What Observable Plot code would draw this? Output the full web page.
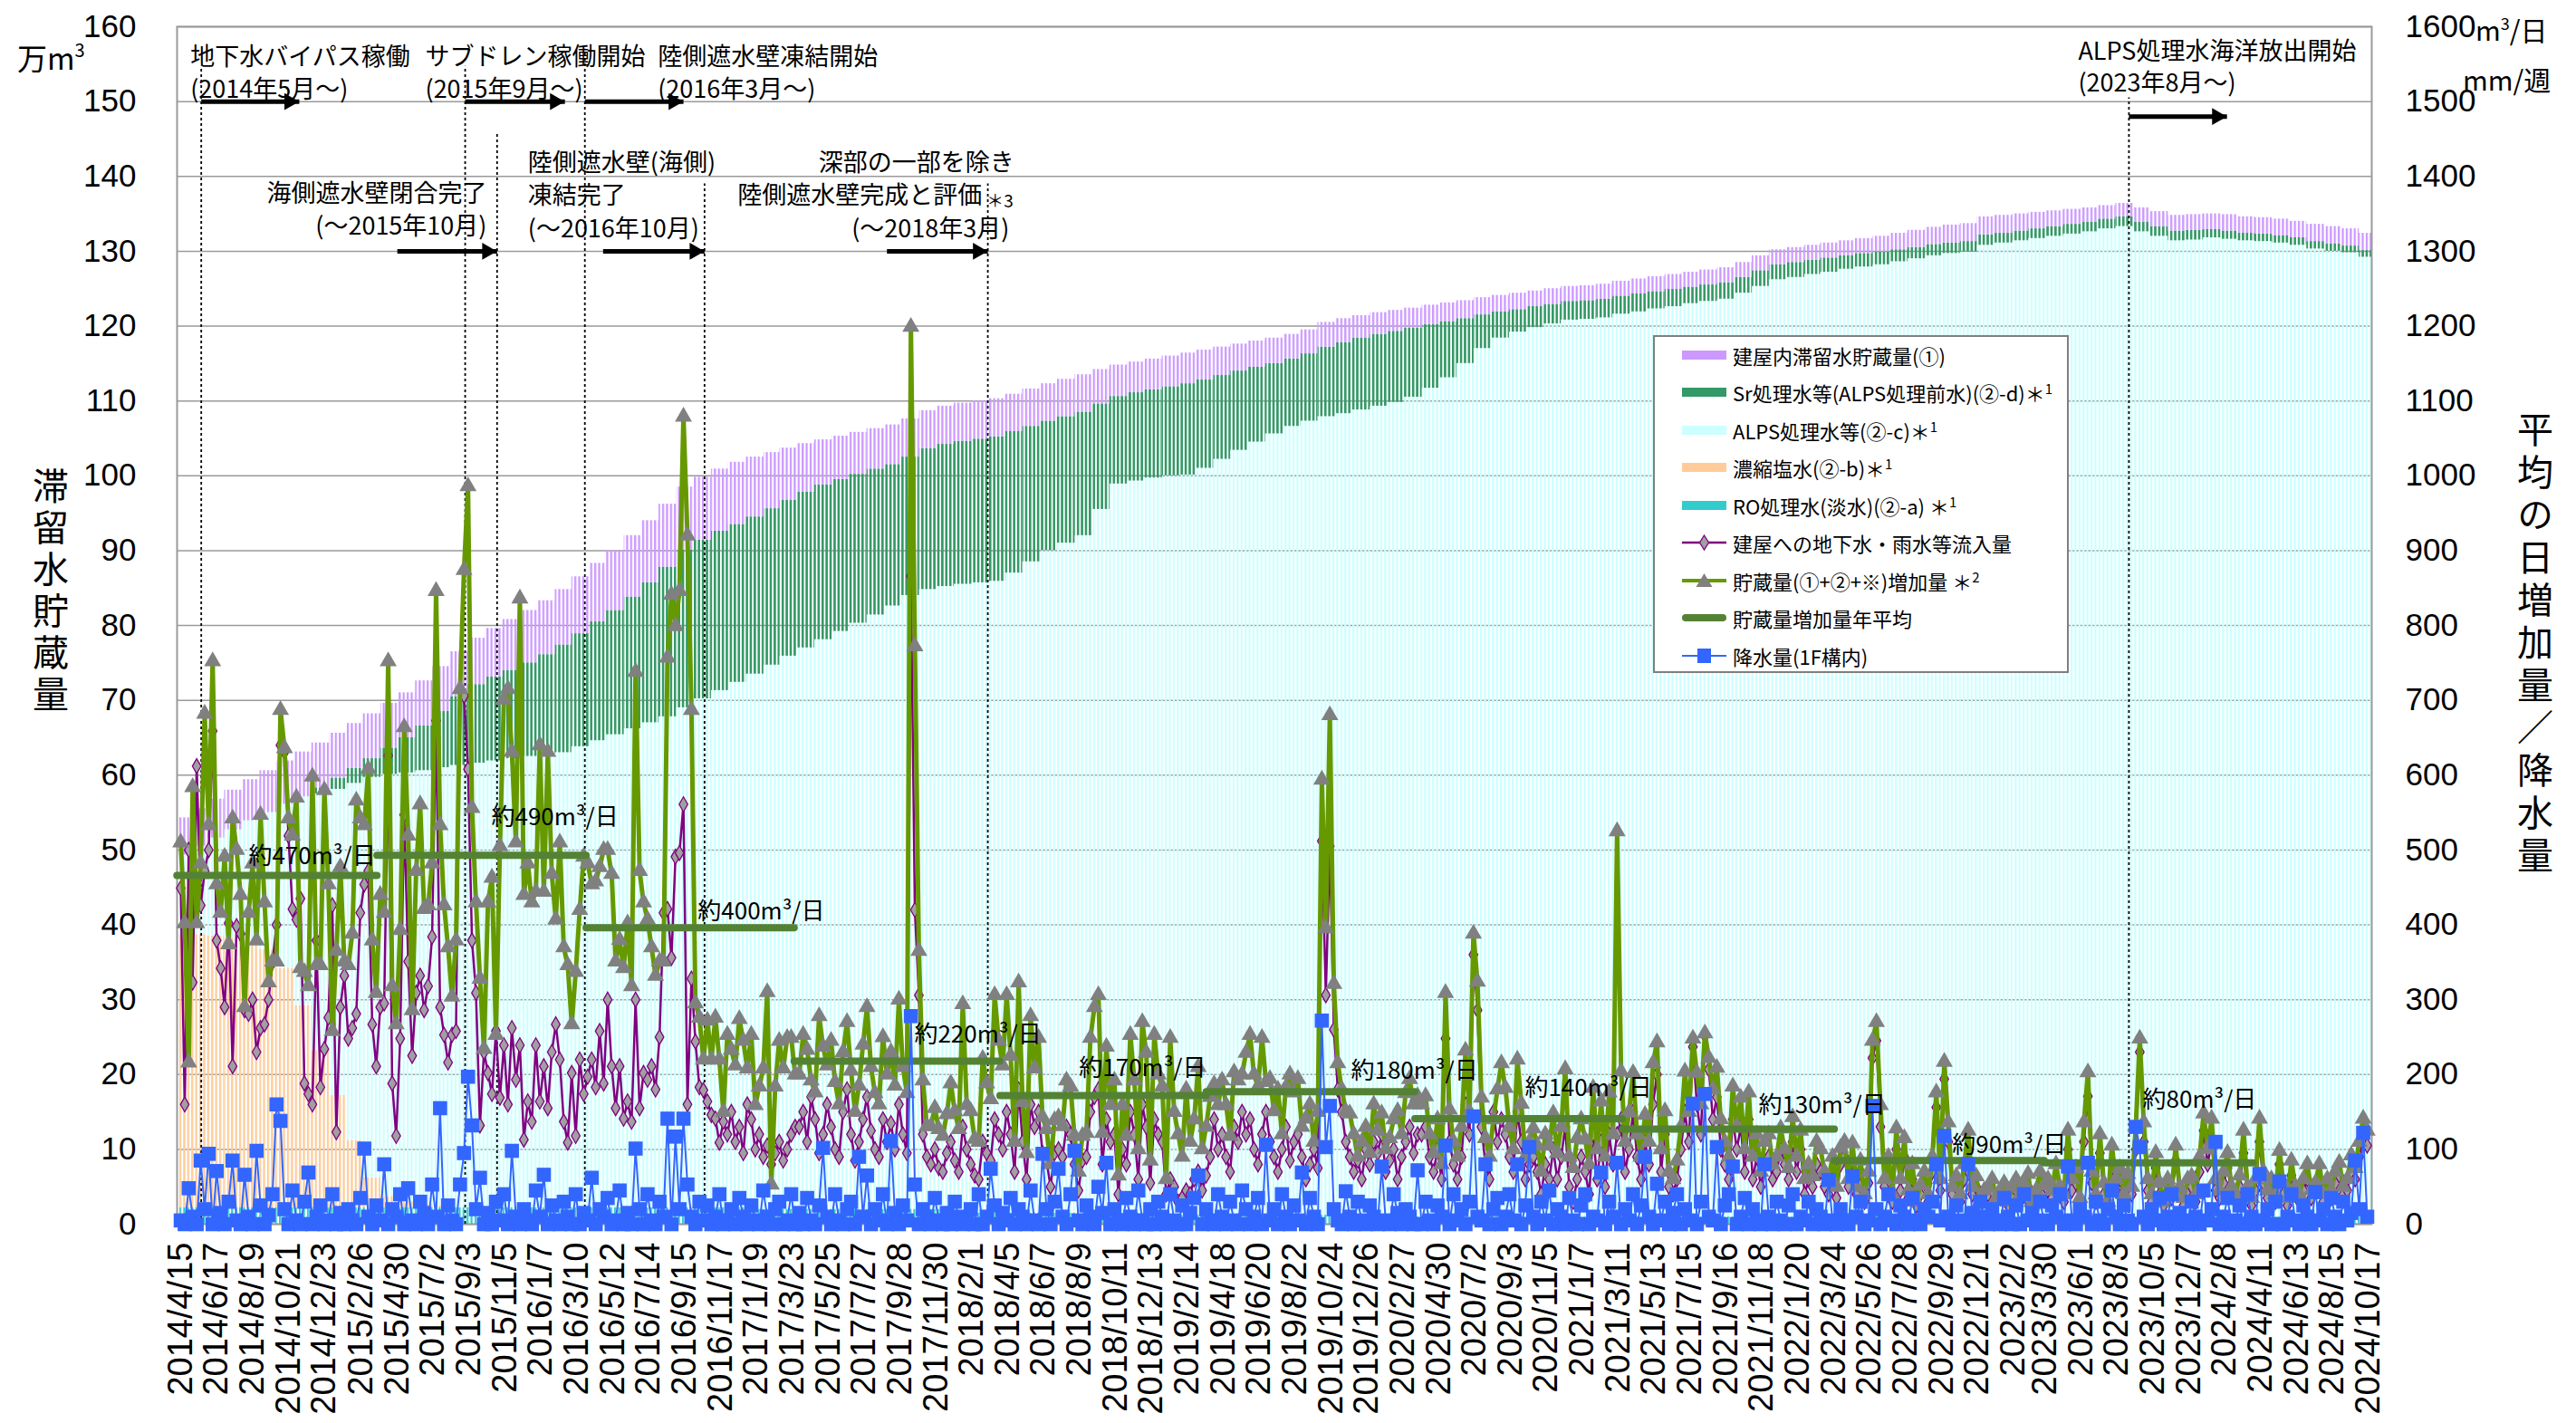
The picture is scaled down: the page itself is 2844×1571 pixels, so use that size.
<!DOCTYPE html>
<html><head><meta charset="utf-8">
<script src="https://cdn.jsdelivr.net/npm/d3@7"></script>
<script src="https://cdn.jsdelivr.net/npm/@observablehq/plot@0.6"></script>
<style>
body{margin:0;background:#fff;}
#wrap{position:relative;width:2844px;height:1571px;overflow:hidden;background:#fff;font-family:"Noto Sans CJK JP",sans-serif;color:#000;}
#wrap>svg{position:absolute;left:0;top:0;}
.ov{position:absolute;white-space:nowrap;line-height:1;}
.vt{writing-mode:vertical-rl;text-orientation:upright;font-size:40px;line-height:40px;}
#legend{position:absolute;left:1825px;top:370px;width:455px;height:369px;border:2px solid #7f7f7f;background:#fff;}
.lr{position:absolute;left:30px;height:41px;display:flex;align-items:center;font-size:22px;white-space:nowrap;}
.lr svg{margin-right:7px;flex:none;}
.lr sup{font-size:15px;}
</style></head>
<body><div id="wrap"></div>
<script>
// ---------------- x-axis tick labels (weekly categories, every 9th label) ----------------
const tickLabels = ["2014/4/15","2014/6/17","2014/8/19","2014/10/21","2014/12/23","2015/2/26","2015/4/30","2015/7/2","2015/9/3","2015/11/5","2016/1/7","2016/3/10","2016/5/12","2016/7/14","2016/9/15","2016/11/17","2017/1/19","2017/3/23","2017/5/25","2017/7/27","2017/9/28","2017/11/30","2018/2/1","2018/4/5","2018/6/7","2018/8/9","2018/10/11","2018/12/13","2019/2/14","2019/4/18","2019/6/20","2019/8/22","2019/10/24","2019/12/26","2020/2/27","2020/4/30","2020/7/2","2020/9/3","2020/11/5","2021/1/7","2021/3/11","2021/5/13","2021/7/15","2021/9/16","2021/11/18","2022/1/20","2022/3/24","2022/5/26","2022/7/28","2022/9/29","2022/12/1","2023/2/2","2023/3/30","2023/6/1","2023/8/3","2023/10/5","2023/12/7","2024/2/8","2024/4/11","2024/6/13","2024/8/15","2024/10/17"];

// ---------------- storage stacks (万m3), monthly, 2014/4 .. 2024/10: top of each layer ----------------
const roTop = [
2.2,2.2,2.2,2.2,2.2,2.2,2.2,2.2,2.2,
2.2,2.2,2.2,2.2,2.2,2.2,2.2,2.2,2.2,2.2,2.2,2.2,
2.2,2.2,2.2,2.2,2.2,2.2,2.2,2.2,2.2,2.2,2.2,2.2,
2.0,2.0,2.0,2.0,2.0,2.0,2.0,2.0,2.0,2.0,2.0,2.0,
1.5,1.5,1.5,1.5,1.5,1.5,1.5,1.5,1.5,1.5,1.5,1.5,
1.2,1.2,1.2,1.2,1.2,1.2,1.2,1.2,1.2,1.2,1.2,1.2,
1.0,1.0,1.0,1.0,1.0,1.0,1.0,1.0,1.0,1.0,1.0,1.0,
1.0,1.0,1.0,1.0,1.0,1.0,1.0,1.0,1.0,1.0,1.0,1.0,
1.0,1.0,1.0,1.0,1.0,1.0,1.0,1.0,1.0,1.0,1.0,1.0,
1.0,1.0,1.0,1.0,1.0,1.0,1.0,1.0,1.0,1.0,1.0,1.0,
1.0,1.0,1.0,1.0,1.0,1.0,1.0,1.0,1.0,1.0];
const concTop = [
38.7,38.7,38.5,38.2,37.7,36.7,34.2,29.2,23.2,
17.2,11.2,6.2,3.7,3.0,2.7,2.5,2.2,2.2,2.2,2.2,2.2,
2.2,2.2,2.2,2.2,2.2,2.2,2.2,2.2,2.2,2.2,2.2,2.2,
2.0,2.0,2.0,2.0,2.0,2.0,2.0,2.0,2.0,2.0,2.0,2.0,
1.5,1.5,1.5,1.5,1.5,1.5,1.5,1.5,1.5,1.5,1.5,1.5,
1.2,1.2,1.2,1.2,1.2,1.2,1.2,1.2,1.2,1.2,1.2,1.2,
1.0,1.0,1.0,1.0,1.0,1.0,1.0,1.0,1.0,1.0,1.0,1.0,
1.0,1.0,1.0,1.0,1.0,1.0,1.0,1.0,1.0,1.0,1.0,1.0,
1.0,1.0,1.0,1.0,1.0,1.0,1.0,1.0,1.0,1.0,1.0,1.0,
1.0,1.0,1.0,1.0,1.0,1.0,1.0,1.0,1.0,1.0,1.0,1.0,
1.0,1.0,1.0,1.0,1.0,1.0,1.0,1.0,1.0,1.0];
const alpsTop = [
49.3,50.5,51.6,52.7,53.9,55.0,56.1,57.1,57.5,
58.1,58.9,59.7,60.1,60.3,60.6,61.0,61.3,61.6,61.9,62.2,62.5,
62.8,63.0,63.8,64.6,65.4,66.2,67.0,67.8,69.0,70.2,71.3,72.4,
73.5,74.7,75.9,77.0,78.1,79.2,80.3,81.4,82.6,84.0,84.8,85.2,
85.5,85.7,85.9,87.0,88.5,90.0,91.0,92.0,95.5,98.9,99.3,99.7,
100.0,100.1,101.0,102.2,103.4,104.5,105.6,106.6,107.3,107.9,108.3,108.8,
109.3,109.8,110.5,111.7,113.1,115.0,117.0,118.4,119.2,119.8,120.3,120.8,
120.9,121.1,121.6,121.9,122.3,122.6,123.0,123.3,123.6,124.4,125.3,126.2,
126.5,126.9,127.2,127.6,127.9,128.2,128.6,129.0,129.4,129.7,129.9,130.8,
131.1,131.4,131.7,132.0,132.3,132.6,133.0,133.3,132.6,132.0,131.4,131.5,
131.8,131.6,131.4,131.3,131.1,130.8,130.3,130.0,129.8,129.2];
const srTop = [
49.3,50.5,51.6,52.7,53.9,55.0,56.1,57.1,58.3,
59.6,60.9,62.2,63.6,65.0,66.6,68.5,70.5,72.1,73.1,74.0,75.0,
76.1,77.4,78.9,80.5,82.0,83.8,85.7,87.8,90.1,91.4,92.6,93.5,
94.5,95.6,96.7,97.8,98.8,99.5,100.2,100.9,101.5,102.5,103.6,104.2,
104.6,104.9,105.2,105.9,106.6,107.3,107.9,108.5,109.6,110.6,111.1,111.5,
111.9,112.3,112.8,113.4,114.0,114.5,115.0,115.6,116.3,117.2,117.8,118.4,
118.9,119.3,119.7,120.2,120.6,121.0,121.5,121.9,122.2,122.6,122.9,123.3,
123.4,123.6,124.0,124.3,124.6,124.9,125.2,125.5,125.8,126.5,127.4,128.2,
128.5,128.8,129.1,129.4,129.7,129.9,130.2,130.5,130.9,131.1,131.3,132.2,
132.4,132.7,133.0,133.3,133.6,133.9,134.3,134.6,133.9,133.3,132.7,132.8,
132.9,132.7,132.4,132.3,132.1,131.8,131.3,131.0,130.7,130.1];
const bldgTop = [
54.3,55.5,56.8,58.0,59.4,60.6,61.9,63.1,64.3,
65.6,66.9,68.2,69.6,71.0,72.6,74.5,76.5,78.3,79.6,80.8,82.0,
83.3,84.8,86.5,88.3,90.0,92.0,94.0,96.2,98.5,99.8,100.9,101.8,
102.5,103.1,103.7,104.3,104.8,105.3,105.8,106.3,106.8,107.6,108.7,109.3,
109.7,110.0,110.3,110.9,111.6,112.3,112.9,113.5,114.2,114.8,115.2,115.6,
116.0,116.4,116.8,117.2,117.6,118.0,118.4,118.9,119.5,120.5,121.0,121.4,
121.8,122.1,122.4,122.8,123.1,123.4,123.8,124.1,124.4,124.7,125.0,125.3,
125.4,125.6,126.0,126.3,126.6,126.9,127.2,127.5,127.8,128.5,129.4,130.2,
130.5,130.8,131.1,131.4,131.7,132.0,132.4,132.8,133.2,133.5,133.7,134.6,
134.8,135.0,135.2,135.4,135.6,135.8,136.1,136.4,135.8,135.3,134.8,134.9,
135.0,134.9,134.6,134.5,134.3,134.0,133.6,133.3,133.0,132.4];

// ---------------- weekly series from 2014/4/15 (m3/day ; rain mm/week) ----------------
const increase = [
510,402,216,584,402,482,682,533,752,454,416,491,374,542,500,440,290,416,482,379,
547,430,323,351,351,687,636,542,519,570,342,337,318,598,346,346,580,454,258,365,
477,351,346,388,566,542,533,608,379,309,440,
416,752,318,267,393,664,519,286,472,561,421,426,482,846,533,426,370,304,379,715,
874,986,556,430,328,234,430,463,253,505,701,715,631,510,836,440,482,430,444,640,
444,631,468,407,510,370,346,267,337,420,491,482,
454,458,477,500,500,468,351,380,342,402,318,738,472,430,407,370,332,351,351,757,
841,799,846,1079,920,687,295,276,220,272,220,276,220,150,253,233,212,274,245,208,
253,159,184,208,310,53,184,245,208,249,249,200,
200,253,233,192,176,278,237,212,245,190,160,230,270,205,150,185,240,290,210,175,
160,250,200,230,185,300,210,175,1199,772,365,192,131,131,155,127,118,147,188,151,
127,294,159,151,114,110,221,188,167,306,245,212,
306,225,110,323,163,95,278,208,249,143,127,80,139,143,131,192,184,118,70,118,
122,249,290,306,122,237,159,192,65,159,118,253,192,100,270,229,85,253,200,184,
60,249,150,120,90,180,110,140,210,100,130,170,
187,159,192,159,118,203,192,200,229,253,200,184,249,190,194,151,180,120,183,200,
176,194,130,141,160,110,150,594,395,680,321,215,180,151,148,120,90,110,130,95,
160,125,148,100,115,140,151,120,175,194,160,171,
160,171,120,95,140,80,309,153,110,90,130,232,150,388,324,169,115,90,140,180,
215,182,130,100,220,161,90,110,128,105,70,120,105,148,95,130,207,90,75,115,
140,113,80,182,100,164,90,176,120,525,204,110,150,
202,120,90,146,110,215,243,100,151,70,60,85,130,204,150,248,202,160,255,222,
180,209,140,110,90,184,130,169,100,176,90,120,70,110,120,80,90,128,100,75,
143,90,125,60,80,64,110,100,70,60,90,50,
102,110,60,108,50,85,40,70,245,270,159,60,90,40,128,60,115,45,80,30,
52,70,40,90,176,60,217,136,50,64,40,80,125,50,64,30,45,49,60,35,
44,55,30,49,60,40,55,67,30,45,70,52,
60,45,80,50,40,125,60,75,35,136,203,70,40,120,55,30,105,60,75,40,
67,50,130,248,136,60,40,95,55,30,60,45,105,50,35,60,64,40,90,148,
100,141,60,45,70,95,50,40,65,125,50,35,
60,141,70,45,60,40,98,55,35,85,50,40,60,80,45,55,80,40,60,45,
70,82,50,60,92,75,110,141,125];

const inflow = [
449,160,500,323,612,426,472,500,659,379,342,290,402,211,398,388,286,281,300,230,
262,267,300,350,400,640,631,519,421,407,435,188,174,160,379,183,234,276,426,123,
290,332,248,262,281,416,454,472,267,211,290,
295,626,188,118,248,547,351,225,309,332,286,318,384,673,290,253,216,253,258,715,
706,608,379,309,132,230,202,174,258,169,239,160,262,193,239,113,164,137,239,164,
211,155,230,267,220,137,109,202,118,220,174,197,
220,183,258,188,300,211,155,211,141,164,137,300,155,202,193,211,180,250,416,421,
356,491,496,561,160,328,244,183,179,164,146,141,109,137,120,150,110,130,95,160,
140,100,120,90,105,80,95,110,85,100,120,130,
130,150,110,170,140,95,120,160,130,100,90,150,180,120,85,110,140,170,125,100,
90,140,110,135,100,160,120,95,866,420,306,120,90,80,100,75,70,95,110,85,
70,130,100,80,65,60,110,95,85,140,120,100,
150,120,70,180,110,60,160,130,150,95,85,50,95,100,90,130,120,80,45,85,
90,150,170,180,80,140,110,120,40,100,80,150,120,60,160,130,55,140,120,110,
40,60,50,30,35,45,40,60,70,45,65,90,
140,100,120,90,70,130,110,150,120,140,100,80,120,150,110,90,70,100,130,85,
110,120,90,60,80,100,75,512,306,505,260,180,150,110,90,70,85,60,100,80,
110,95,120,70,85,100,60,90,110,130,95,120,
120,130,90,70,100,60,248,110,80,60,90,160,120,360,286,130,80,60,150,110,
140,120,90,70,150,110,60,80,90,70,40,80,60,100,60,90,130,50,30,60,
90,70,40,120,60,110,50,120,80,120,140,70,100,
150,90,60,110,80,160,200,70,120,50,40,60,100,150,110,237,160,120,252,207,
140,170,100,80,60,140,100,130,70,140,60,90,50,80,90,60,70,100,80,60,
110,70,100,40,60,50,80,70,50,40,60,35,
80,90,50,85,40,70,30,55,222,245,130,50,70,30,100,45,90,35,60,25,
40,55,30,70,156,45,194,110,40,50,30,60,100,40,50,25,35,40,45,30,
35,40,25,40,45,30,40,50,25,35,55,40,
45,35,60,40,30,100,45,55,25,110,171,55,30,95,40,25,80,45,60,30,
50,40,100,230,110,45,30,75,40,25,45,35,85,40,25,45,50,30,70,125,
80,110,45,35,55,75,40,30,50,95,40,25,
45,110,55,35,45,30,80,40,25,65,40,30,45,60,35,45,60,30,45,35,
55,65,40,45,70,60,90,110,105];

const rain = [
5,0,48,10,0,85,20,94,0,71,15,0,30,
85,5,0,66,10,0,98,25,0,12,40,160,138,
20,0,45,5,0,30,69,0,10,25,0,5,40,
0,15,0,20,5,0,35,101,10,0,25,5,
80,0,20,10,40,0,48,5,0,30,15,0,53,
10,155,0,25,5,0,53,95,197,132,20,62,0,
15,0,30,5,40,0,98,10,0,20,5,0,45,
10,66,0,25,5,0,30,10,0,40,0,15,5,
62,0,20,10,35,0,5,45,0,15,0,101,20,
0,40,5,0,30,10,141,0,117,20,141,53,10,
0,30,5,25,0,10,40,0,5,20,0,35,10,
0,25,5,0,45,10,0,20,30,0,5,40,0,
15,0,35,5,0,25,102,10,0,40,5,0,20,
30,0,90,10,65,0,20,5,40,0,111,15,0,
25,5,278,53,0,20,10,0,35,5,0,15,0,
30,10,0,5,20,0,40,0,10,74,25,0,15,
5,35,0,20,10,0,45,5,0,94,20,0,30,
74,10,0,40,98,5,0,25,10,0,50,15,82,
0,20,5,0,35,10,0,45,5,0,20,0,30,
10,0,40,5,0,25,0,15,35,65,0,20,5,
0,40,10,0,30,5,0,45,20,0,10,35,0,
106,5,20,0,40,10,0,25,5,69,0,35,10,
0,272,103,158,20,5,0,44,10,0,30,5,0,
25,10,0,77,5,0,40,15,0,20,10,0,72,
0,30,5,0,25,10,105,0,40,5,20,0,30,
144,10,5,80,0,20,35,0,10,40,5,80,0,
25,103,10,0,30,5,45,0,20,10,0,35,5,
0,25,40,0,10,5,69,0,30,10,82,0,20,
5,40,0,25,90,10,0,54,5,30,0,15,40,
0,20,5,161,0,30,174,10,5,103,0,25,40,
77,0,10,35,0,20,5,0,80,10,0,30,5,
0,25,40,0,10,5,30,0,20,10,0,59,5,
0,20,5,0,64,10,30,0,5,158,20,0,10,
40,5,0,25,10,0,35,5,0,20,10,30,80,
5,118,10,0,25,5,0,80,15,0,30,10,0,
20,5,0,35,10,0,25,0,40,5,15,0,30,
5,0,25,10,40,0,77,5,0,20,10,82,0,
30,5,0,20,45,10,0,25,5,0,130,103,10,
0,20,5,35,0,10,40,0,15,5,0,30,10,
0,45,5,20,110,0,10,35,0,5,25,0,40,
10,0,67,5,20,0,30,57,0,10,40,5,0,
25,10,0,43,5,20,0,35,10,0,30,5,15,
85,20,122,10];

// ---------------- fiscal-year average of storage increase (m3/day) ----------------
const avgStart = ["2014-04-09","2015-03-26","2016-03-27","2017-03-27","2018-03-23","2019-03-20","2020-03-20","2021-03-19","2022-03-26","2023-03-29"];
const avgEnd   = ["2015-03-26","2016-03-27","2017-03-27","2018-03-23","2019-03-20","2020-03-20","2021-03-19","2022-03-26","2023-03-29","2024-03-29"];
const avgValue = [466,493,396,218,172,177,141,127,85,82];
const avgLabel = [470,490,400,220,170,180,140,130,90,80];
const avgLabelAt = ["2014-08-12","2015-10-12","2016-10-08","2017-10-23","2018-08-08","2019-11-28","2020-09-28","2021-11-12","2022-10-18","2023-09-17"];
const avgLabelY = [491,543,417,253,208,204,181,158,105,166];

// ---------------- event markers ----------------
const eventDates = ["2014-05-21","2015-08-27","2015-10-22","2016-03-24","2016-10-20","2018-03-01","2023-08-24"];
const eventTop = [154.7,154.7,145.8,157,139,139,150.5];
const arrowFrom = ["2014-05-21","2015-08-27","2016-03-24","2015-04-30","2016-04-25","2017-09-05","2023-08-24"];
const arrowTo   = ["2014-11-09","2016-02-18","2016-09-13","2015-10-22","2016-10-20","2018-03-01","2024-02-12"];
const arrowY = [150,150,150,130,130,130,148];
const noteText = ["地下水バイパス稼働","(2014年5月～)","サブドレン稼働開始","(2015年9月～)","陸側遮水壁凍結開始","(2016年3月～)","海側遮水壁閉合完了","(～2015年10月)","陸側遮水壁(海側)","凍結完了","(～2016年10月)","深部の一部を除き","陸側遮水壁完成と評価","(～2018年3月)","ALPS処理水海洋放出開始","(2023年8月～)"];
const noteAt = ["2014-05-02","2014-05-02","2015-06-18","2015-06-18","2016-07-30","2016-07-30","2015-10-04","2015-10-04","2015-12-15","2015-12-15","2015-12-15","2017-05-08","2016-12-17","2017-07-05","2023-05-27","2023-05-27"];
const noteY = [155.9,151.6,155.9,151.6,155.9,151.6,137.6,133.3,141.7,137.4,132.9,141.7,137.4,132.9,156.6,152.4];
const noteAnchor = ["start","start","start","start","start","start","end","end","start","start","start","start","start","start","start","start"];

// ---------------- build tables ----------------
const D = s => new Date(s + "T00:00:00Z");
const week0 = new Date(Date.UTC(2014, 3, 15));
const weeks = increase.map((v, i) => ({date: d3.utcDay.offset(week0, 7 * i), inc: v, inflow: inflow[i], rain: rain[i]}));
const months = d3.utcMonth.range(new Date(Date.UTC(2014, 3, 1)), new Date(Date.UTC(2024, 10, 1)));
const stack = months.map((m, i) => ({start: m, end: d3.utcMonth.offset(m, 1), ro: roTop[i], conc: concTop[i], alps: alpsTop[i], sr: srTop[i], bldg: bldgTop[i]}));
const avgs = avgValue.map((v, i) => ({x1: D(avgStart[i]), x2: D(avgEnd[i]), v, label: `約${avgLabel[i]}m³/日`, lx: D(avgLabelAt[i]), ly: avgLabelY[i]}));
const events = eventDates.map((d, i) => ({x: D(d), top: eventTop[i]}));
const arrows = arrowFrom.map((d, i) => ({x1: D(d), x2: D(arrowTo[i]), y: arrowY[i]}));
const notes = noteText.map((t, i) => ({text: t, x: D(noteAt[i]), y: noteY[i], anchor: noteAnchor[i]}));
const tickDates = tickLabels.map(s => { const [y, m, d] = s.split("/").map(Number); return new Date(Date.UTC(y, m - 1, d)); });
const tickMap = new Map(tickDates.map((d, i) => [+d, tickLabels[i]]));
const yTicks = d3.range(0, 161, 10);

const layerDefs = [
  {id: "ro",   y1: () => 0, y2: "ro",   color: "#33cccc"},
  {id: "conc", y1: "ro",    y2: "conc", color: "#ffcc99"},
  {id: "alps", y1: "conc",  y2: "alps", color: "#ccffff"},
  {id: "sr",   y1: "alps",  y2: "sr",   color: "#339966"},
  {id: "bldg", y1: "sr",    y2: "bldg", color: "#cc99ff"}
];
const JP = "Noto Sans CJK JP, sans-serif";

const chart = Plot.plot({
  width: 2844, height: 1571,
  marginLeft: 195, marginRight: 226, marginTop: 29, marginBottom: 220,
  style: {background: "white", color: "black", fontFamily: "Liberation Sans, Arial, sans-serif"},
  x: {type: "utc", domain: [new Date("2014-04-08T14:00:00Z"), new Date("2024-10-23T00:00:00Z")]},
  y: {domain: [0, 160]},
  marks: [
    Plot.gridY({ticks: yTicks, stroke: "#9a9a9a", strokeOpacity: 1, strokeWidth: 1.5}),
    ...layerDefs.map(L => Plot.rect(stack, {x1: "start", x2: "end", y1: L.y1, y2: L.y2, fill: L.color, clip: true})),
    Plot.frame({stroke: "#9a9a9a", strokeWidth: 2}),
    Plot.ruleX(events, {x: "x", y1: 0, y2: "top", stroke: "#000", strokeWidth: 1.8, strokeDasharray: "3,3"}),
    Plot.link(arrows, {x1: "x1", x2: "x2", y1: "y", y2: "y", stroke: "#000", strokeWidth: 5}),
    Plot.dot(arrows, {x: "x2", y: "y", symbol: "triangle", rotate: 90, r: 7, fill: "#000", dx: -11}),
    Plot.text(notes.filter(d => d.anchor === "start"), {x: "x", y: "y", text: "text", textAnchor: "start", fontSize: 27, fontFamily: JP, fill: "#000"}),
    Plot.text(notes.filter(d => d.anchor === "end"), {x: "x", y: "y", text: "text", textAnchor: "end", fontSize: 27, fontFamily: JP, fill: "#000"}),
    Plot.text([{x: D("2018-02-27"), y: 136.6}], {x: "x", y: "y", text: () => "＊3", textAnchor: "start", fontSize: 19, fontFamily: JP, fill: "#000"}),
    Plot.line(weeks, {x: "date", y: d => d.inflow / 10, stroke: "#800080", strokeWidth: 2.5}),
    Plot.dot(weeks, {x: "date", y: d => d.inflow / 10, symbol: "diamond", r: 5, fill: "#a0a0a0", stroke: "#800080", strokeWidth: 1.3}),
    Plot.line(weeks, {x: "date", y: d => d.inc / 10, stroke: "#669900", strokeWidth: 5}),
    Plot.dot(weeks, {x: "date", y: d => d.inc / 10, symbol: "triangle", r: 7, fill: "#808080"}),
    Plot.ruleY(avgs, {x1: "x1", x2: "x2", y: d => d.v / 10, stroke: "#548235", strokeWidth: 8, strokeLinecap: "round"}),
    Plot.line(weeks, {x: "date", y: d => d.rain / 10, stroke: "#3366ff", strokeWidth: 2}),
    Plot.dot(weeks, {x: "date", y: d => d.rain / 10, symbol: "square", r: 8.8, fill: "#3366ff"}),
    Plot.text(avgs, {x: "lx", y: d => d.ly / 10, text: "label", textAnchor: "start", fontSize: 26, fontFamily: JP, fill: "#000"}),
    Plot.axisY({anchor: "left", ticks: yTicks, tickSize: 0, tickPadding: 45, fontSize: 35, label: null}),
    Plot.axisY({anchor: "right", ticks: yTicks, tickSize: 0, tickPadding: 37, fontSize: 35, label: null, tickFormat: d => String(d * 10)}),
    Plot.axisX({anchor: "bottom", ticks: tickDates, tickFormat: d => tickMap.get(+d), tickRotate: -90, tickSize: 0, tickPadding: 20, fontSize: 38, label: null})
  ]
});

// striped (hatched) fills for the weekly storage bars
const NS = "http://www.w3.org/2000/svg";
const xs = chart.scale("x");
const px0 = xs.apply(weeks[0].date), pw = xs.apply(weeks[1].date) - px0;
const defs = document.createElementNS(NS, "defs");
for (const L of layerDefs) {
  const bw = L.id === "sr" ? 2.6 : 2.3;
  const p = document.createElementNS(NS, "pattern");
  p.setAttribute("id", "pat-" + L.id);
  p.setAttribute("patternUnits", "userSpaceOnUse");
  p.setAttribute("width", pw);
  p.setAttribute("height", 10);
  p.setAttribute("x", px0 - bw / 2);
  const r = document.createElementNS(NS, "rect");
  r.setAttribute("width", bw); r.setAttribute("height", 10); r.setAttribute("fill", L.color);
  p.appendChild(r);
  defs.appendChild(p);
}
chart.insertBefore(defs, chart.firstChild);
for (const L of layerDefs) {
  chart.querySelectorAll(`[fill="${L.color}"]`).forEach(el => {
    if (el.closest("pattern")) return;
    el.setAttribute("fill", `url(#pat-${L.id})`);
  });
}

const wrap = document.getElementById("wrap");
wrap.appendChild(chart);

// overlays: units, axis titles, legend
function ov(html, style, cls = "ov") {
  const d = document.createElement("div");
  d.className = cls; d.innerHTML = html; d.setAttribute("style", style);
  wrap.appendChild(d);
}
ov('万m<span style="font-size:20px;position:relative;top:-14px;">3</span>', "left:19px;top:47px;font-size:33px;");
ov('m<span style="font-size:18px;position:relative;top:-12px;">3</span>/日', "left:2733px;top:17px;font-size:30px;");
ov('mm/週', "left:2719px;top:72px;font-size:30px;");
ov('滞留水貯蔵量', "left:36px;top:516px;letter-spacing:6px;", "ov vt");
ov('平均の日増加量／降水量', "left:2779px;top:454px;letter-spacing:7px;", "ov vt");

const lg = document.createElement("div");
lg.id = "legend";
const rectIcon = c => `<svg width="49" height="20"><rect x="0" y="5" width="49" height="10" fill="${c}"/></svg>`;
const items = [
  [rectIcon("#cc99ff"), "建屋内滞留水貯蔵量(①)"],
  [rectIcon("#339966"), "Sr処理水等(ALPS処理前水)(②-d)＊<sup>1</sup>"],
  [rectIcon("#ccffff"), "ALPS処理水等(②-c)＊<sup>1</sup>"],
  [rectIcon("#ffcc99"), "濃縮塩水(②-b)＊<sup>1</sup>"],
  [rectIcon("#33cccc"), "RO処理水(淡水)(②-a) ＊<sup>1</sup>"],
  [`<svg width="49" height="20"><line x1="0" y1="10" x2="49" y2="10" stroke="#800080" stroke-width="2.5"/><path d="M24.5,2 L29.5,10 L24.5,18 L19.5,10Z" fill="#a0a0a0" stroke="#800080" stroke-width="1.3"/></svg>`, "建屋への地下水・雨水等流入量"],
  [`<svg width="49" height="20"><line x1="0" y1="10" x2="49" y2="10" stroke="#669900" stroke-width="4"/><path d="M24.5,2 L33.5,17 L15.5,17Z" fill="#808080"/></svg>`, "貯蔵量(①+②+※)増加量 ＊<sup>2</sup>"],
  [`<svg width="49" height="20"><line x1="4" y1="10" x2="45" y2="10" stroke="#548235" stroke-width="8" stroke-linecap="round"/></svg>`, "貯蔵量増加量年平均"],
  [`<svg width="49" height="20"><line x1="0" y1="10" x2="49" y2="10" stroke="#3366ff" stroke-width="2"/><rect x="17" y="2" width="15" height="16" fill="#3366ff"/></svg>`, "降水量(1F構内)"]
];
items.forEach(([icon, text], i) => {
  const r = document.createElement("div");
  r.className = "lr";
  r.style.top = (-1 + i * 41.5) + "px";
  r.innerHTML = icon + `<span>${text}</span>`;
  lg.appendChild(r);
});
wrap.appendChild(lg);
</script>
</body></html>
